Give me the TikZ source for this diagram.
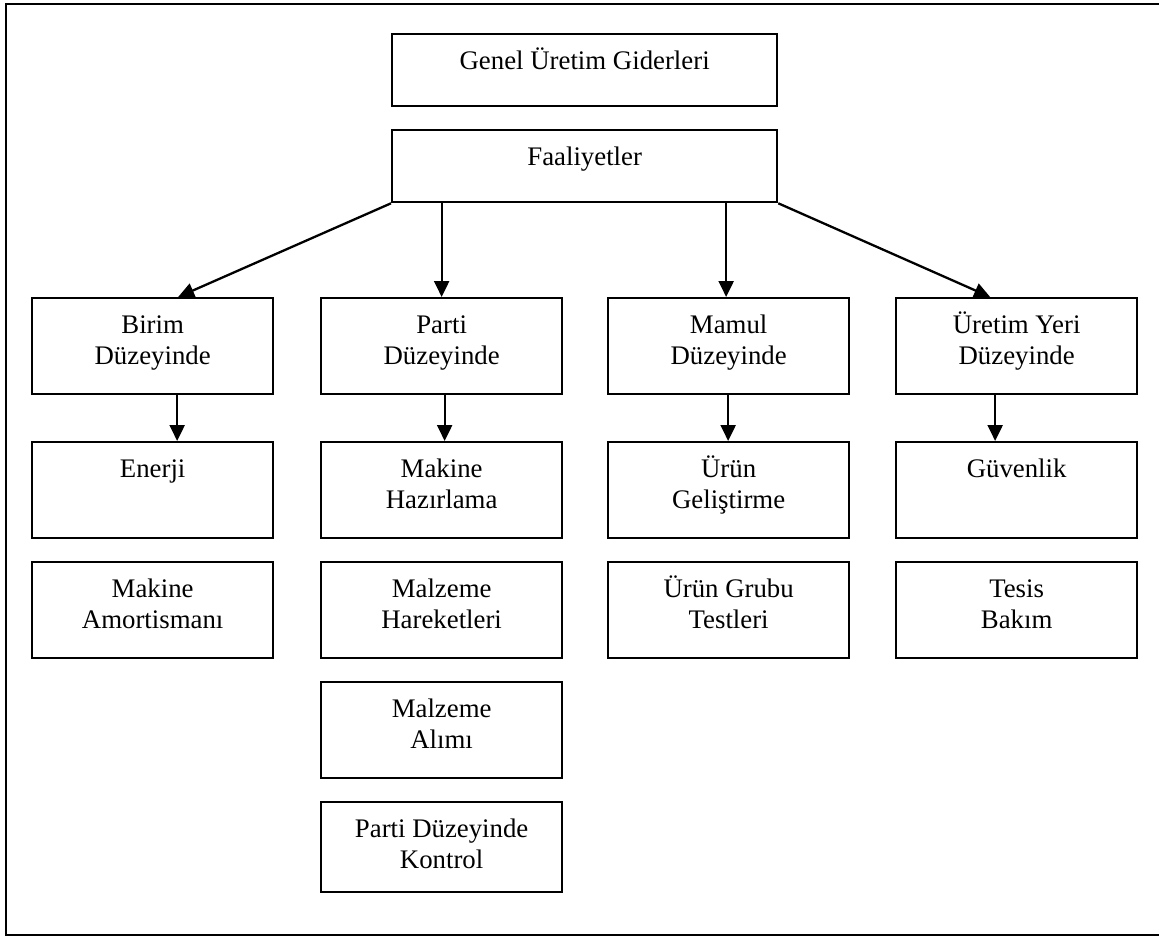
\documentclass[tikz,border=0pt]{standalone}
\usepackage{fontspec}
\setmainfont{Liberation Serif}
\usetikzlibrary{arrows.meta}

% box content: fixed-size parbox, first baseline 35pt below the top edge
\newcommand{\bxt}[3]{\parbox[c][#2][t]{#1}{\centering\rule{0pt}{35pt}#3\par}}

\begin{document}
\begin{tikzpicture}[x=1pt,y=-1pt,
  boxnode/.style={draw, line width=2.3pt, inner sep=0pt, anchor=north west,
    font=\fontsize{26.8}{31}\selectfont},
  arr/.style={line width=2.3pt, -{Triangle[length=16pt,width=15pt]}},
  framerule/.style={line width=2.6pt}]
\useasboundingbox (0,0) rectangle (1159,936);

% open frame (no right side)
\draw[framerule] (1159,4) -- (6,4) -- (6,935) -- (1159,935);

% top boxes
\node[boxnode] (genel) at (391,33)  {\bxt{385pt}{72pt}{Genel Üretim Giderleri}};
\node[boxnode] (faal)  at (391,129) {\bxt{385pt}{72pt}{Faaliyetler}};

% activity levels
\node[boxnode] (birim)  at (31,297)  {\bxt{241pt}{96pt}{Birim\\Düzeyinde}};
\node[boxnode] (parti)  at (320,297) {\bxt{241pt}{96pt}{Parti\\Düzeyinde}};
\node[boxnode] (mamul)  at (607,297) {\bxt{241pt}{96pt}{Mamul\\Düzeyinde}};
\node[boxnode] (uretim) at (895,297) {\bxt{241pt}{96pt}{Üretim Yeri\\Düzeyinde}};

% second row
\node[boxnode] (enerji)   at (31,441)  {\bxt{241pt}{96pt}{Enerji}};
\node[boxnode] (makhaz)   at (320,441) {\bxt{241pt}{96pt}{Makine\\Hazırlama}};
\node[boxnode] (urungel)  at (607,441) {\bxt{241pt}{96pt}{Ürün\\Geliştirme}};
\node[boxnode] (guvenlik) at (895,441) {\bxt{241pt}{96pt}{Güvenlik}};

% third row
\node[boxnode] (makamo)  at (31,561)  {\bxt{241pt}{96pt}{Makine\\Amortismanı}};
\node[boxnode] (malhar)  at (320,561) {\bxt{241pt}{96pt}{Malzeme\\Hareketleri}};
\node[boxnode] (urungr)  at (607,561) {\bxt{241pt}{96pt}{Ürün Grubu\\Testleri}};
\node[boxnode] (tesis)   at (895,561) {\bxt{241pt}{96pt}{Tesis\\Bakım}};

% remaining batch-level items
\node[boxnode] (malalim)  at (320,681) {\bxt{241pt}{96pt}{Malzeme\\Alımı}};
\node[boxnode] (kontrol)  at (320,801) {\bxt{241pt}{90pt}{Parti Düzeyinde\\Kontrol}};

% connectors
\draw[arr] (faal.south west) -- ([xshift=25.5pt]birim.north);
\draw[arr] (faal.south -| parti.north) -- (parti.north);
\draw[arr] ([xshift=-2.5pt]faal.south -| mamul.north) -- ([xshift=-2.5pt]mamul.north);
\draw[arr] (faal.south east) -- ([xshift=-26.5pt]uretim.north);

\draw[arr] ([xshift=24.5pt]birim.south) -- ([xshift=24.5pt]enerji.north);
\draw[arr] ([xshift=3pt]parti.south) -- ([xshift=3pt]makhaz.north);
\draw[arr] ([xshift=-0.5pt]mamul.south) -- ([xshift=-0.5pt]urungel.north);
\draw[arr] ([xshift=-21.5pt]uretim.south) -- ([xshift=-21.5pt]guvenlik.north);
\end{tikzpicture}
\end{document}
